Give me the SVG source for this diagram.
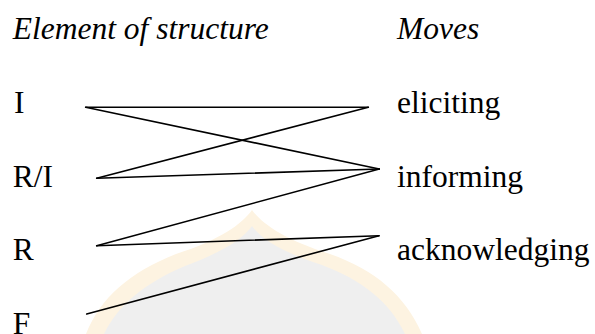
<svg xmlns="http://www.w3.org/2000/svg" width="595" height="334" viewBox="0 0 595 334">
  <style>
    .t { font-family: "Liberation Serif", "Times New Roman", serif; font-size: 31.5px; fill: #000; }
    .it { font-style: italic; }
    .c { stroke: #000; stroke-width: 1.6; fill: none; stroke-linecap: round; }
  </style>
  <rect width="595" height="334" fill="#ffffff"/>
  <g id="watermark">
    <path d="M252,210 C262,224 285,240 330,254 C375,270 405,295 422,334 L86,334 C100,298 130,272 176,254 C220,240 242,224 252,210 Z" fill="#fdf3e1"/>
    <path d="M252,226 C262,240 282,252 322,265 C362,280 390,302 405,334 L104,334 C118,305 145,283 185,266 C222,252 242,240 252,226 Z" fill="#efefef"/>
  </g>
  <g id="headers">
    <text class="t it" x="12.7" y="39">Element of structure</text>
    <text class="t it" x="397" y="39">Moves</text>
  </g>
  <g id="node-I"><text class="t" x="14" y="113.3">I</text></g>
  <g id="node-RI"><text class="t" x="12.7" y="187.3">R/I</text></g>
  <g id="node-R"><text class="t" x="12.7" y="260">R</text></g>
  <g id="node-F"><text class="t" x="12.7" y="334">F</text></g>
  <g id="node-eliciting"><text class="t" x="397" y="113.3">eliciting</text></g>
  <g id="node-informing"><text class="t" x="397" y="187.3">informing</text></g>
  <g id="node-acknowledging"><text class="t" x="397" y="260">acknowledging</text></g>
  <g id="connectors" class="c">
    <line x1="85.7" y1="107.3" x2="368.3" y2="107.3"/>
    <line x1="368.3" y1="107.3" x2="96.7" y2="178.3"/>
    <line x1="85.7" y1="107.3" x2="379.3" y2="169"/>
    <line x1="96.7" y1="178.3" x2="379.3" y2="169"/>
    <line x1="379.3" y1="169" x2="96.7" y2="245.7"/>
    <line x1="96.7" y1="245.7" x2="379" y2="235.7"/>
    <line x1="379" y1="235.7" x2="86.7" y2="314"/>
  </g>
</svg>
